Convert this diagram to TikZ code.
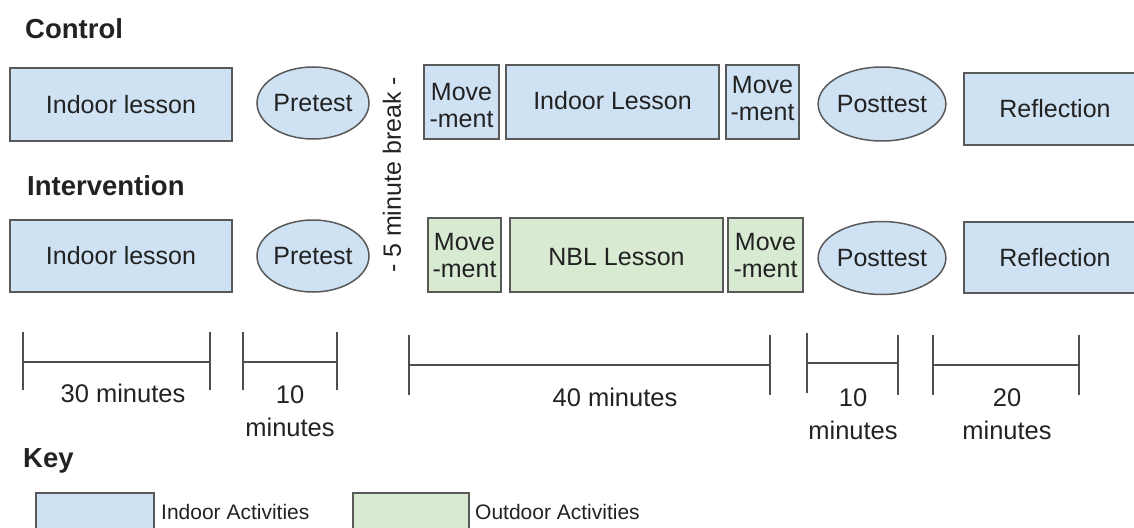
\documentclass[tikz,border=0pt]{standalone}
\usepackage{fontspec}
\setmainfont{Liberation Sans}
\usetikzlibrary{shapes.geometric}
\definecolor{indoorfill}{HTML}{CFE2F3}
\definecolor{outdoorfill}{HTML}{D9EAD3}
\definecolor{edgegray}{HTML}{595959}
\definecolor{txt}{HTML}{222222}
\newcommand{\shiftedtext}[2]{\raisebox{#1}[\height][\depth]{#2}}
\newcommand{\twoline}[3]{\shiftedtext{#1}{\begin{tabular}{@{}c@{}}#2\\#3\end{tabular}}}
\tikzset{
  base/.style={inner sep=0pt, text=txt, font=\fontsize{25}{27}\selectfont, align=center},
  act/.style={base, draw=edgegray, line width=1.5pt, rectangle},
  indoor/.style={act, fill=indoorfill},
  outdoor/.style={act, fill=outdoorfill},
  testell/.style={base, ellipse, draw=edgegray, line width=1.5pt, fill=indoorfill},
  heading/.style={inner sep=0pt, text=txt, font=\bfseries\fontsize{27.5}{30}\selectfont, anchor=west},
  durlabel/.style={inner sep=0pt, text=txt, font=\fontsize{25.5}{33}\selectfont, align=center},
  keylabel/.style={inner sep=0pt, text=txt, font=\fontsize{21}{24}\selectfont, anchor=west},
  bar/.style={draw=txt!80, line width=1.8pt}
}
\begin{document}
\begin{tikzpicture}[x=1pt,y=-1pt]
\useasboundingbox (0,0) rectangle (1134,527);
\clip (0,0) rectangle (1134,527);
% headings
\node[heading] (hc) at (25,29) {Control};
\node[heading] (hi) at (27,186) {Intervention};
\node[heading] (hk) at (23,461) {Key};
% control row
\node[indoor, minimum width=222, minimum height=73] (cil) at (121,104.5) {Indoor lesson};
\node[testell, minimum width=110, minimum height=72] (cpre) at (313,103) {Pretest};
\node[indoor, minimum width=75, minimum height=74] (cm1) at (461.5,102) {\twoline{-7pt}{Move}{-ment}};
\node[indoor, minimum width=213, minimum height=74] (cil2) at (612.5,102) {\shiftedtext{1.5pt}{Indoor Lesson}};
\node[indoor, minimum width=73, minimum height=74] (cm2) at (762.5,102) {\twoline{0pt}{Move}{-ment}};
\node[testell, minimum width=109, minimum height=74] (cpost) at (882,104) {Posttest};
\node[indoor, minimum width=182, minimum height=72] (cref) at (1055,109) {Reflection};
% break label
\node[base, rotate=90] (brk) at (392,175) {- 5 minute break -};
% intervention row
\node[indoor, minimum width=222, minimum height=72] (iil) at (121,256) {Indoor lesson};
\node[testell, minimum width=110, minimum height=72] (ipre) at (313,256) {Pretest};
\node[outdoor, minimum width=73, minimum height=74] (im1) at (464.5,255) {\twoline{-4pt}{Move}{-ment}};
\node[outdoor, minimum width=213, minimum height=74] (nbl) at (616.5,255) {\shiftedtext{-2pt}{NBL Lesson}};
\node[outdoor, minimum width=75, minimum height=74] (im2) at (765.5,255) {\twoline{-4pt}{Move}{-ment}};
\node[testell, minimum width=109, minimum height=73] (ipost) at (882,258) {Posttest};
\node[indoor, minimum width=182, minimum height=71] (iref) at (1055,257.5) {Reflection};
% duration bars
\draw[bar] (23,332) -- (23,390) (210,332) -- (210,390) (23,362) -- (210,362);
\draw[bar] (243,332) -- (243,390) (337,332) -- (337,390) (243,362) -- (337,362);
\draw[bar] (409,335) -- (409,395) (770,335) -- (770,395) (409,365) -- (770,365);
\draw[bar] (807,333) -- (807,393) (898,335) -- (898,395) (807,363) -- (898,363);
\draw[bar] (933,335) -- (933,395) (1079,335) -- (1079,395) (933,365) -- (1079,365);
\node[durlabel] (d1) at (123,393) {30 minutes};
\node[durlabel] (d2) at (290,411) {10\\minutes};
\node[durlabel] (d3) at (615,397) {40 minutes};
\node[durlabel] (d4) at (853,414) {10\\minutes};
\node[durlabel] (d5) at (1007,414) {20\\minutes};
% key
\node[indoor, minimum width=118, minimum height=50, anchor=north west] (kin) at (35,492) {};
\node[keylabel] (kinl) at (161,512) {Indoor Activities};
\node[outdoor, minimum width=116, minimum height=50, anchor=north west] (kout) at (352,492) {};
\node[keylabel] (koutl) at (475,512) {Outdoor Activities};
\end{tikzpicture}
\end{document}
